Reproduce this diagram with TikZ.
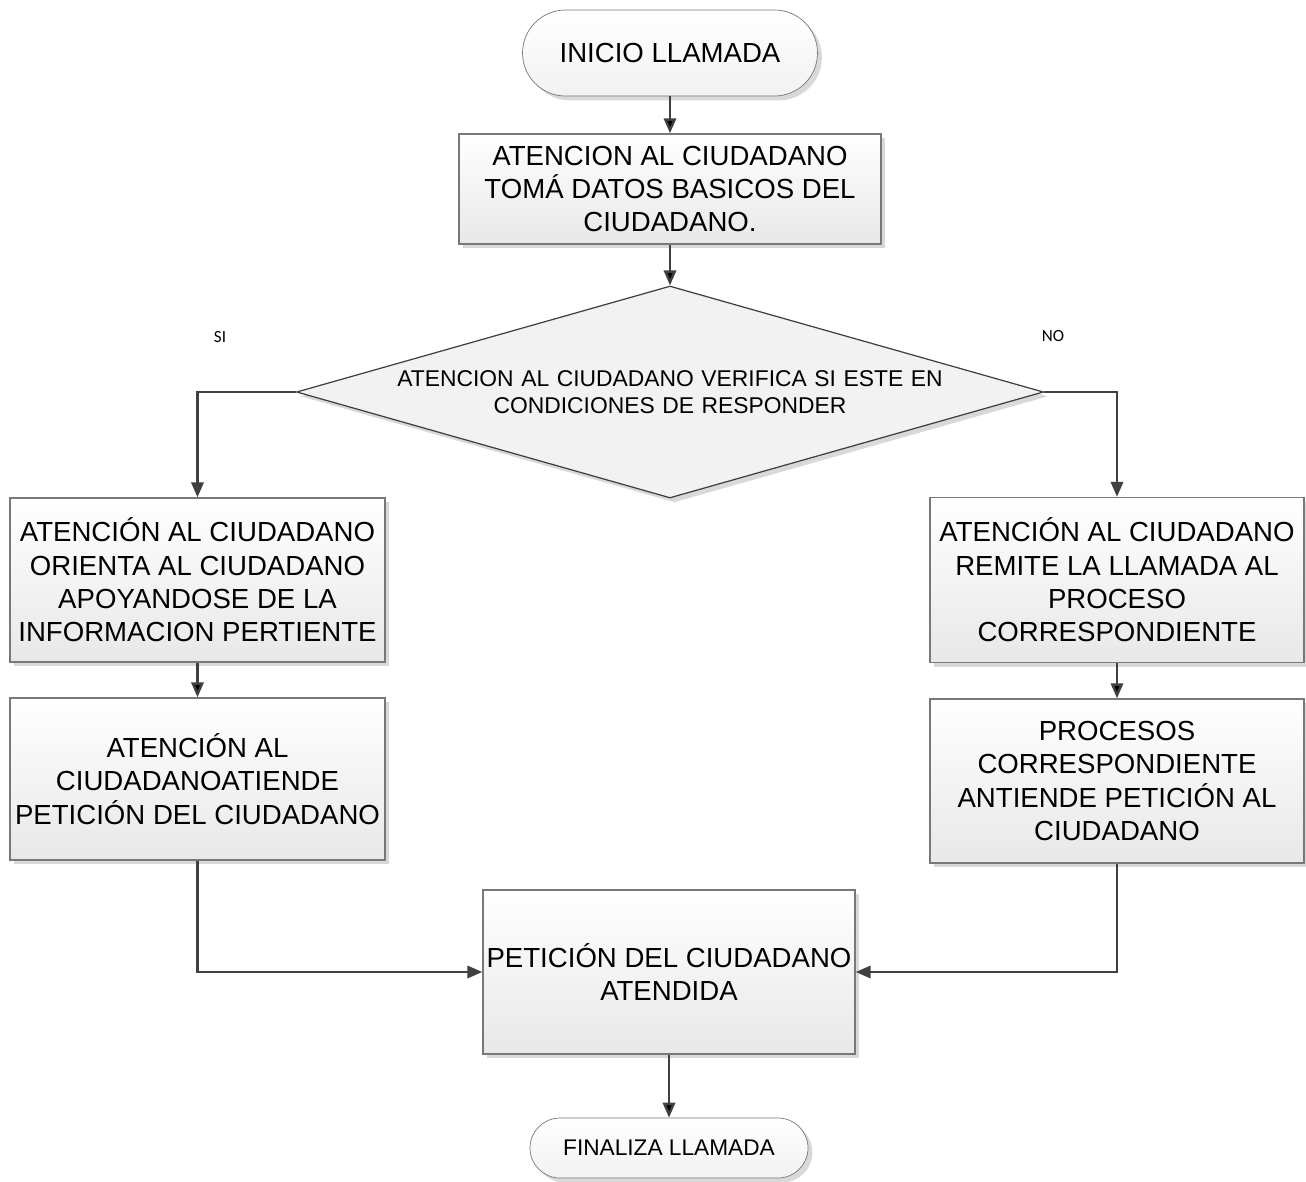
\documentclass[tikz,border=0pt]{standalone}
\usepackage{fontspec}
\setmainfont{Liberation Sans}
\newfontfamily\labelfont{Carlito}
\usepackage{tikz}
\usetikzlibrary{shapes.geometric, shadows, arrows.meta}

\definecolor{linegray}{RGB}{64,64,64}
\definecolor{edgegray}{RGB}{120,120,120}
\definecolor{fillgray}{RGB}{242,242,242}

\begin{document}
\begin{tikzpicture}[->,>={Triangle[length=8.5pt,width=7pt]},auto,semithick]
\tikzstyle{every node}=[font=\fontsize{15.7pt}{19pt}\selectfont]
\tikzset{
  boxshadow/.style={drop shadow={shadow xshift=2.5pt,shadow yshift=-2.5pt,fill=black!15,opacity=1}},
  terminal/.style={rectangle,draw=edgegray,thin,top color=white,bottom color=fillgray,boxshadow,align=center},
  process/.style={rectangle,draw=edgegray,line width=0.8pt,top color=white,bottom color=black!9,boxshadow,align=center,inner sep=2pt},
  decision/.style={diamond,draw=linegray,line width=0.7pt,fill=fillgray,boxshadow,aspect=3.5,inner sep=0pt,
                   text width=11.2cm,align=center,font=\fontsize{13pt}{15.3pt}\selectfont},
  flow/.style={draw=linegray,line width=1.4pt},
  answer/.style={font=\labelfont\fontsize{9.7pt}{11pt}\selectfont}
}

\useasboundingbox (0,0) rectangle (26.12,-23.64);

        \node[terminal,minimum width=5.9cm,minimum height=1.72cm,rounded corners=0.86cm]    (inicio) at (13.4,-1.06)          {INICIO LLAMADA};
        \node[process,minimum width=8.44cm,minimum height=2.2cm,node distance=2.72cm]     (datos)  [below of=inicio]  {ATENCION AL CIUDADANO\\TOMÁ DATOS BASICOS DEL\\CIUDADANO.};
        \node[decision,minimum width=14.94cm,minimum height=4.24cm,node distance=4.06cm]  (verifica) [below of=datos] {ATENCION AL CIUDADANO VERIFICA SI ESTE EN\\CONDICIONES DE RESPONDER};

        \node[answer]          (si) at (4.4,-6.74)       {SI};
        \node[answer]          (no) at (21.06,-6.72)     {NO};

        \node[process,minimum width=7.5cm,minimum height=3.28cm]                         (l1)   at (3.95,-11.6)       {ATENCIÓN AL CIUDADANO\\ORIENTA AL CIUDADANO\\APOYANDOSE DE LA\\INFORMACION PERTIENTE};
        \node[process,minimum width=7.5cm,minimum height=3.24cm,node distance=3.98cm]    (l2)   [below of=l1]         {ATENCIÓN AL\\CIUDADANOATIENDE\\PETICIÓN DEL CIUDADANO};

        \node[process,minimum width=7.48cm,minimum height=3.3cm]                         (r1)   at (22.34,-11.6)      {ATENCIÓN AL CIUDADANO\\REMITE LA LLAMADA AL\\PROCESO\\CORRESPONDIENTE};
        \node[process,minimum width=7.48cm,minimum height=3.28cm,node distance=4.02cm]   (r2)   [below of=r1]         {PROCESOS\\CORRESPONDIENTE\\ANTIENDE PETICIÓN AL\\CIUDADANO};

        \node[process,minimum width=7.44cm,minimum height=3.28cm]                        (final) at (13.38,-19.44)    {PETICIÓN DEL CIUDADANO\\ATENDIDA};
        \node[terminal,minimum width=5.56cm,minimum height=1.2cm,rounded corners=0.6cm,node distance=3.52cm,
              font=\fontsize{12.9pt}{15pt}\selectfont]                                    (fin)  [below of=final]      {FINALIZA LLAMADA};

        \path[flow]
        (inicio)   edge node {}            (datos)
        (datos)    edge node {}            (verifica)
        (l1)       edge node {}            (l2)
        (r1)       edge node {}            (r2)
        (final)    edge node {}            (fin)
        ; %end path

        \draw[flow] (verifica.west) -| (l1.north);
        \draw[flow] (verifica.east) -| (r1.north);
        \draw[flow] (l2.south) |- (final.west);
        \draw[flow] (r2.south) |- (final.east);

\end{tikzpicture}
\end{document}
